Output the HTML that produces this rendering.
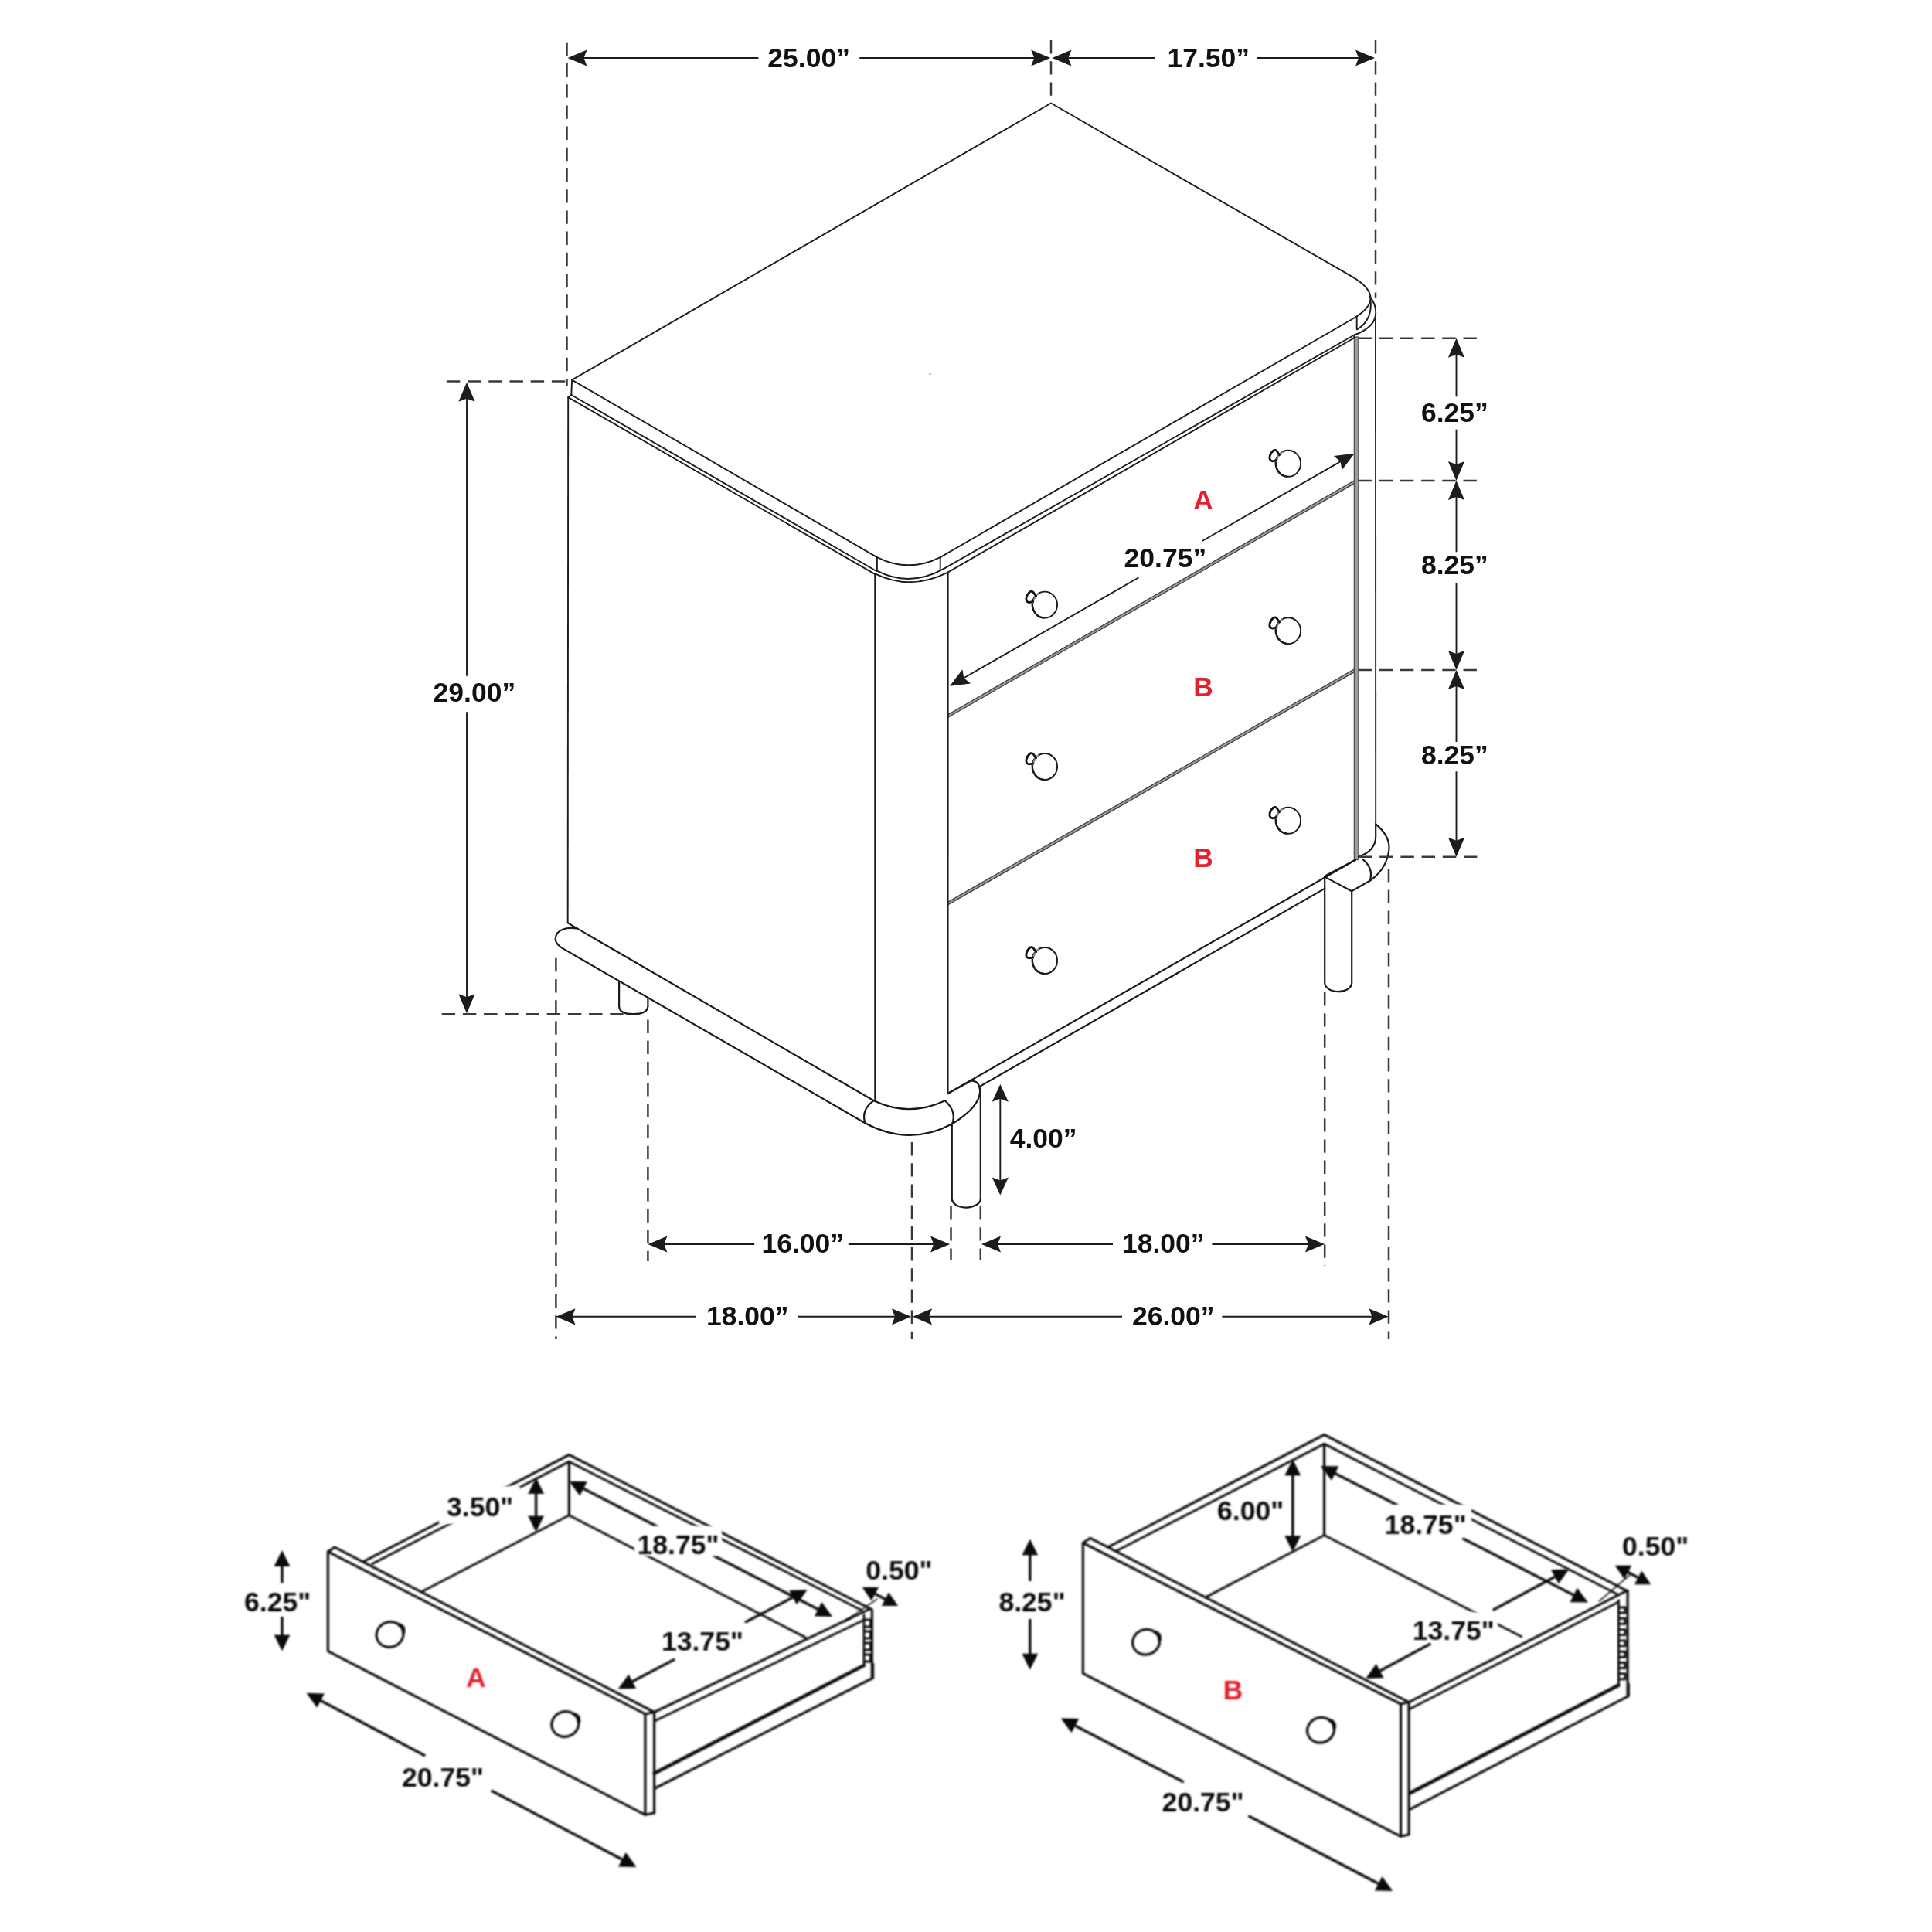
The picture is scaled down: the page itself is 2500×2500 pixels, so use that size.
<!DOCTYPE html>
<html><head><meta charset="utf-8"><title>Nightstand dimensions</title>
<style>
html,body{margin:0;padding:0;background:#fff;}
body{width:2500px;height:2500px;overflow:hidden;}
svg{display:block;}
text{font-family:"Liberation Sans",sans-serif;font-weight:bold;}
.m{fill:none;stroke:#1c1c1c;stroke-width:1.9;stroke-linecap:round;stroke-linejoin:round;}
.m2{fill:none;stroke:#1a1a1a;stroke-width:2.2;stroke-linecap:round;stroke-linejoin:round;}
.d{fill:none;stroke:#0d0d0d;stroke-width:3.2;stroke-linecap:round;stroke-linejoin:round;}
.dt{fill:none;stroke:#0d0d0d;stroke-width:2.9;stroke-linecap:round;stroke-linejoin:round;}
.dk{fill:none;stroke:#0d0d0d;stroke-width:4.6;stroke-linecap:round;stroke-linejoin:round;}
</style></head><body>
<svg width="2500" height="2500" viewBox="0 0 2500 2500">
<defs><filter id="bl" color-interpolation-filters="sRGB" x="-5%" y="-5%" width="110%" height="110%"><feGaussianBlur stdDeviation="0.8"/></filter>
<filter id="bs" color-interpolation-filters="sRGB" x="-5%" y="-5%" width="110%" height="110%"><feGaussianBlur stdDeviation="0.45"/></filter></defs>
<rect width="2500" height="2500" fill="#fff"/>

<g id="main" filter="url(#bs)">
<polygon points="1226,925.0 1753,621.5 1753,625.3 1226,928.8" fill="#9a9a9a" stroke="#3a3a3a" stroke-width="1.2"/>
<polygon points="1226,1167.5 1753,865.5 1753,869.3 1226,1171.3" fill="#9a9a9a" stroke="#3a3a3a" stroke-width="1.2"/>
<rect x="1752.3" y="436" width="5.7" height="676.5" fill="#9c9c9c" stroke="#4a4a4a" stroke-width="1.2"/>
<circle cx="1203.5" cy="484" r="1.1" fill="#555"/>
<path class="m" d="M740.1,491.6 L1360,133.5 L1749,357.6 Q1797,385.4 1751,412.2 L1216.7,721.1 Q1175.8,741.5 1134.9,721.1 Z"/>
<path class="m" d="M740.1,491.6 L739.3,511 L1132.8,738.2"/>
<path class="m" d="M739.3,511 L735.2,514.1 L1131.6,742.6"/>
<path class="m" d="M1134.9,721.1 L1134.9,738.7 M1216.7,721.1 L1216.7,736.6"/>
<path class="m" d="M1134.9,738.7 Q1176.7,760.5 1220.5,736.4"/>
<path class="m" d="M1132.4,742.4 Q1178,765 1226.5,740.6"/>
<path class="m" d="M1226.5,740.6 L1751.5,437.7 L1754,432.5"/>
<path class="m" d="M1220.5,736.4 L1754,432.5"/>
<path class="m" d="M1755.7,409.7 L1755.7,426.3"/>
<path class="m" d="M1756.3,426.3 Q1776,414 1773.6,389"/>
<path class="m" d="M1772.5,384 Q1781.5,394 1780,408 Q1778,423 1755.3,432.5"/>
<line x1="735.2" y1="514.1" x2="734.7" y2="1194.2" stroke="#1c1c1c" stroke-width="1.9" />
<line x1="1132.4" y1="742.6" x2="1132.4" y2="1424.2" stroke="#1c1c1c" stroke-width="2.3" />
<line x1="1226.5" y1="740.8" x2="1226.4" y2="1416.0" stroke="#1c1c1c" stroke-width="2.3" />
<line x1="1780.0" y1="405.6" x2="1780.2" y2="1066.3" stroke="#1c1c1c" stroke-width="1.9" />
<path class="m2" d="M734.7,1194.2 L746.7,1201.4 L1130.7,1424.2"/>
<path class="m2" d="M746.7,1201.4 Q729,1199 721.5,1207 Q713,1219 730.1,1228.4 L1119.4,1453.2"/>
<path class="m2" d="M1130.7,1424.2 Q1176.3,1446 1222.9,1424.2"/>
<path class="m2" d="M1119.4,1453.2 Q1176.3,1484 1232.2,1454.2"/>
<path class="m2" d="M1130.7,1424.2 Q1114,1436 1119.4,1453.2"/>
<path class="m2" d="M1222.9,1424.2 Q1238,1438 1232.2,1454.2"/>
<path class="m2" d="M1226.4,1415 L1257,1398.3"/>
<path class="m2" d="M1257,1398.3 Q1267.5,1399 1268.2,1411 Q1268.5,1432 1232.2,1454.2"/>
<path class="m2" d="M1268.4,1405.6 L1713.6,1150.1"/>
<path class="m2" d="M1226.4,1415 L1753.9,1112.8"/>
<path class="m2" d="M1780.2,1066.3 Q1799,1082 1797.4,1099 Q1795,1124 1772.6,1139.8 L1748.8,1153.2"/>
<path class="m2" d="M1780.2,1066.3 L1780.2,1082.8 Q1780,1101 1758,1108.7"/>
<path class="m2" d="M1763.3,1111.8 Q1778,1124 1772.6,1139.8"/>
<path class="m2" d="M1714.2,1134.6 L1749.2,1153.2"/>
<path class="m2" d="M1753.9,1112.8 L1714.6,1133.5"/>
<path class="m2" d="M1714.2,1134.6 L1714.2,1271.2 A17.5,11.4 0 0 0 1749.2,1272.3 L1749.2,1153.2"/>
<path class="m2" d="M1231.8,1455.3 L1231.8,1550.5 A18.5,11.5 0 0 0 1268.8,1551.6 L1268.8,1412"/>
<path class="m2" d="M801.1,1270.8 L801.1,1301.9 Q801.5,1312.2 819.2,1312.2 Q838,1312.2 838.4,1301.9 L838.4,1291.5"/>
<ellipse class="m" cx="1352" cy="782.6" rx="16.1" ry="17" fill="#fff"/><path d="M1350.6,799.5 A16.1,17 0 0 1 1338.8,772.8" fill="none" stroke="#1c1c1c" stroke-width="2.5" stroke-linecap="round"/><path d="M1344.5,767.0 Q1338.0,772.6 1336.4,780.6" fill="none" stroke="#8a8a8a" stroke-width="2.2"/><path d="M1340.6,771.5 L1336.9,766.1 Q1335.0,764.8 1333.2,765.5 Q1329.2,768.6 1328.1,773.2 Q1327.0,778.6 1331.5,779.6 L1336.7,778.4" fill="none" stroke="#111" stroke-width="2.8" stroke-linecap="round" stroke-linejoin="round"/>
<ellipse class="m" cx="1667" cy="599.8" rx="16.1" ry="17" fill="#fff"/><path d="M1665.6,616.7 A16.1,17 0 0 1 1653.8,590.0" fill="none" stroke="#1c1c1c" stroke-width="2.5" stroke-linecap="round"/><path d="M1659.5,584.2 Q1653.0,589.8 1651.4,597.8" fill="none" stroke="#8a8a8a" stroke-width="2.2"/><path d="M1655.6,588.7 L1651.9,583.3 Q1650.0,582.0 1648.2,582.7 Q1644.2,585.8 1643.1,590.4 Q1642.0,595.8 1646.5,596.8 L1651.7,595.6" fill="none" stroke="#111" stroke-width="2.8" stroke-linecap="round" stroke-linejoin="round"/>
<ellipse class="m" cx="1352" cy="992" rx="16.1" ry="17" fill="#fff"/><path d="M1350.6,1008.9 A16.1,17 0 0 1 1338.8,982.2" fill="none" stroke="#1c1c1c" stroke-width="2.5" stroke-linecap="round"/><path d="M1344.5,976.4 Q1338.0,982.0 1336.4,990.0" fill="none" stroke="#8a8a8a" stroke-width="2.2"/><path d="M1340.6,980.9 L1336.9,975.5 Q1335.0,974.2 1333.2,974.9 Q1329.2,978.0 1328.1,982.6 Q1327.0,988.0 1331.5,989.0 L1336.7,987.8" fill="none" stroke="#111" stroke-width="2.8" stroke-linecap="round" stroke-linejoin="round"/>
<ellipse class="m" cx="1667" cy="816.2" rx="16.1" ry="17" fill="#fff"/><path d="M1665.6,833.1 A16.1,17 0 0 1 1653.8,806.4" fill="none" stroke="#1c1c1c" stroke-width="2.5" stroke-linecap="round"/><path d="M1659.5,800.6 Q1653.0,806.2 1651.4,814.2" fill="none" stroke="#8a8a8a" stroke-width="2.2"/><path d="M1655.6,805.1 L1651.9,799.7 Q1650.0,798.4 1648.2,799.1 Q1644.2,802.2 1643.1,806.8 Q1642.0,812.2 1646.5,813.2 L1651.7,812.0" fill="none" stroke="#111" stroke-width="2.8" stroke-linecap="round" stroke-linejoin="round"/>
<ellipse class="m" cx="1352" cy="1243" rx="16.1" ry="17" fill="#fff"/><path d="M1350.6,1259.9 A16.1,17 0 0 1 1338.8,1233.2" fill="none" stroke="#1c1c1c" stroke-width="2.5" stroke-linecap="round"/><path d="M1344.5,1227.4 Q1338.0,1233.0 1336.4,1241.0" fill="none" stroke="#8a8a8a" stroke-width="2.2"/><path d="M1340.6,1231.9 L1336.9,1226.5 Q1335.0,1225.2 1333.2,1225.9 Q1329.2,1229.0 1328.1,1233.6 Q1327.0,1239.0 1331.5,1240.0 L1336.7,1238.8" fill="none" stroke="#111" stroke-width="2.8" stroke-linecap="round" stroke-linejoin="round"/>
<ellipse class="m" cx="1667" cy="1061.8" rx="16.1" ry="17" fill="#fff"/><path d="M1665.6,1078.7 A16.1,17 0 0 1 1653.8,1052.0" fill="none" stroke="#1c1c1c" stroke-width="2.5" stroke-linecap="round"/><path d="M1659.5,1046.2 Q1653.0,1051.8 1651.4,1059.8" fill="none" stroke="#8a8a8a" stroke-width="2.2"/><path d="M1655.6,1050.7 L1651.9,1045.3 Q1650.0,1044.0 1648.2,1044.7 Q1644.2,1047.8 1643.1,1052.4 Q1642.0,1057.8 1646.5,1058.8 L1651.7,1057.6" fill="none" stroke="#111" stroke-width="2.8" stroke-linecap="round" stroke-linejoin="round"/>
</g>
<g id="dash" filter="url(#bs)">
<line x1="733.5" y1="54.8" x2="733.5" y2="500.0" stroke="#3a3a3a" stroke-width="2.5" stroke-dasharray="17.4 9.8"/>
<line x1="1360.0" y1="52.0" x2="1360.0" y2="124.0" stroke="#3a3a3a" stroke-width="2.5" stroke-dasharray="17.4 9.8"/>
<line x1="1780.0" y1="52.0" x2="1780.0" y2="385.6" stroke="#3a3a3a" stroke-width="2.5" stroke-dasharray="17.4 9.8"/>
<line x1="577.9" y1="493.5" x2="733.6" y2="493.5" stroke="#3a3a3a" stroke-width="2.5" stroke-dasharray="17.4 9.8"/>
<line x1="571.7" y1="1312.2" x2="807.8" y2="1312.2" stroke="#3a3a3a" stroke-width="2.5" stroke-dasharray="17.4 9.8"/>
<line x1="1757.5" y1="437.7" x2="1912.6" y2="437.7" stroke="#3a3a3a" stroke-width="2.5" stroke-dasharray="17.4 9.8"/>
<line x1="1757.5" y1="622.0" x2="1912.6" y2="622.0" stroke="#3a3a3a" stroke-width="2.5" stroke-dasharray="17.4 9.8"/>
<line x1="1757.5" y1="867.0" x2="1912.6" y2="867.0" stroke="#3a3a3a" stroke-width="2.5" stroke-dasharray="17.4 9.8"/>
<line x1="1758.0" y1="1108.7" x2="1912.6" y2="1108.7" stroke="#3a3a3a" stroke-width="2.5" stroke-dasharray="17.4 9.8"/>
<line x1="719.4" y1="1239.8" x2="719.4" y2="1733.0" stroke="#3a3a3a" stroke-width="2.5" stroke-dasharray="17.4 9.8"/>
<line x1="838.4" y1="1319.5" x2="838.4" y2="1632.0" stroke="#3a3a3a" stroke-width="2.5" stroke-dasharray="17.4 9.8"/>
<line x1="1180.0" y1="1478.0" x2="1180.0" y2="1733.0" stroke="#3a3a3a" stroke-width="2.5" stroke-dasharray="17.4 9.8"/>
<line x1="1230.5" y1="1561.0" x2="1230.5" y2="1631.0" stroke="#3a3a3a" stroke-width="2.5" stroke-dasharray="17.4 9.8"/>
<line x1="1268.8" y1="1561.0" x2="1268.8" y2="1631.0" stroke="#3a3a3a" stroke-width="2.5" stroke-dasharray="17.4 9.8"/>
<line x1="1714.2" y1="1284.0" x2="1714.2" y2="1638.0" stroke="#3a3a3a" stroke-width="2.5" stroke-dasharray="17.4 9.8"/>
<line x1="1797.0" y1="1124.2" x2="1797.0" y2="1733.0" stroke="#3a3a3a" stroke-width="2.5" stroke-dasharray="17.4 9.8"/>
</g>
<g id="arr" filter="url(#bs)">
<line x1="749.5" y1="75.0" x2="981.4" y2="75.0" stroke="#1c1c1c" stroke-width="1.9" /><line x1="1112.3" y1="75.0" x2="1344.2" y2="75.0" stroke="#1c1c1c" stroke-width="1.9" /><polygon points="734.5,75.0 759.5,64.4 755.5,75.0 759.5,85.6" fill="#1c1c1c"/><polygon points="1359.2,75.0 1334.2,85.6 1338.2,75.0 1334.2,64.4" fill="#1c1c1c"/>
<line x1="1376.4" y1="75.0" x2="1494.4" y2="75.0" stroke="#1c1c1c" stroke-width="1.9" /><line x1="1626.9" y1="75.0" x2="1764.0" y2="75.0" stroke="#1c1c1c" stroke-width="1.9" /><polygon points="1361.4,75.0 1386.4,64.4 1382.4,75.0 1386.4,85.6" fill="#1c1c1c"/><polygon points="1779.0,75.0 1754.0,85.6 1758.0,75.0 1754.0,64.4" fill="#1c1c1c"/>
<line x1="604.0" y1="509.7" x2="604.0" y2="874.7" stroke="#1c1c1c" stroke-width="1.9" /><line x1="604.0" y1="921.3" x2="604.0" y2="1296.2" stroke="#1c1c1c" stroke-width="1.9" /><polygon points="604.0,494.7 614.6,519.7 604.0,515.7 593.4,519.7" fill="#1c1c1c"/><polygon points="604.0,1311.2 593.4,1286.2 604.0,1290.2 614.6,1286.2" fill="#1c1c1c"/>
<line x1="1884.5" y1="452.7" x2="1884.5" y2="513.3" stroke="#1c1c1c" stroke-width="1.9" /><line x1="1884.5" y1="555.7" x2="1884.5" y2="607.0" stroke="#1c1c1c" stroke-width="1.9" /><polygon points="1884.5,437.7 1895.1,462.7 1884.5,458.7 1873.9,462.7" fill="#1c1c1c"/><polygon points="1884.5,622.0 1873.9,597.0 1884.5,601.0 1895.1,597.0" fill="#1c1c1c"/>
<line x1="1884.5" y1="637.0" x2="1884.5" y2="714.3" stroke="#1c1c1c" stroke-width="1.9" /><line x1="1884.5" y1="754.7" x2="1884.5" y2="852.0" stroke="#1c1c1c" stroke-width="1.9" /><polygon points="1884.5,622.0 1895.1,647.0 1884.5,643.0 1873.9,647.0" fill="#1c1c1c"/><polygon points="1884.5,867.0 1873.9,842.0 1884.5,846.0 1895.1,842.0" fill="#1c1c1c"/>
<line x1="1884.5" y1="882.0" x2="1884.5" y2="960.0" stroke="#1c1c1c" stroke-width="1.9" /><line x1="1884.5" y1="998.3" x2="1884.5" y2="1093.7" stroke="#1c1c1c" stroke-width="1.9" /><polygon points="1884.5,867.0 1895.1,892.0 1884.5,888.0 1873.9,892.0" fill="#1c1c1c"/><polygon points="1884.5,1108.7 1873.9,1083.7 1884.5,1087.7 1895.1,1083.7" fill="#1c1c1c"/>
<line x1="1294.3" y1="1415.0" x2="1294.3" y2="1535.0" stroke="#1c1c1c" stroke-width="1.9" /><polygon points="1294.3,1402.9 1304.9,1425.7 1294.3,1421.7 1283.7,1425.7" fill="#1c1c1c"/><polygon points="1294.3,1546.4 1283.7,1523.6 1294.3,1527.6 1304.9,1523.6" fill="#1c1c1c"/>
<line x1="853.4" y1="1610.0" x2="976.2" y2="1610.0" stroke="#1c1c1c" stroke-width="1.9" /><line x1="1097.8" y1="1610.0" x2="1214.1" y2="1610.0" stroke="#1c1c1c" stroke-width="1.9" /><polygon points="838.4,1610.0 863.4,1599.4 859.4,1610.0 863.4,1620.6" fill="#1c1c1c"/><polygon points="1229.1,1610.0 1204.1,1620.6 1208.1,1610.0 1204.1,1599.4" fill="#1c1c1c"/>
<line x1="1285.0" y1="1610.0" x2="1440.0" y2="1610.0" stroke="#1c1c1c" stroke-width="1.9" /><line x1="1568.4" y1="1610.0" x2="1699.0" y2="1610.0" stroke="#1c1c1c" stroke-width="1.9" /><polygon points="1270.0,1610.0 1295.0,1599.4 1291.0,1610.0 1295.0,1620.6" fill="#1c1c1c"/><polygon points="1714.0,1610.0 1689.0,1620.6 1693.0,1610.0 1689.0,1599.4" fill="#1c1c1c"/>
<line x1="734.5" y1="1703.8" x2="901.0" y2="1703.8" stroke="#1c1c1c" stroke-width="1.9" /><line x1="1033.0" y1="1703.8" x2="1164.0" y2="1703.8" stroke="#1c1c1c" stroke-width="1.9" /><polygon points="719.5,1703.8 744.5,1693.2 740.5,1703.8 744.5,1714.4" fill="#1c1c1c"/><polygon points="1179.0,1703.8 1154.0,1714.4 1158.0,1703.8 1154.0,1693.2" fill="#1c1c1c"/>
<line x1="1196.0" y1="1703.8" x2="1452.0" y2="1703.8" stroke="#1c1c1c" stroke-width="1.9" /><line x1="1581.4" y1="1703.8" x2="1781.5" y2="1703.8" stroke="#1c1c1c" stroke-width="1.9" /><polygon points="1181.0,1703.8 1206.0,1693.2 1202.0,1703.8 1206.0,1714.4" fill="#1c1c1c"/><polygon points="1796.5,1703.8 1771.5,1714.4 1775.5,1703.8 1771.5,1693.2" fill="#1c1c1c"/>
<line x1="1242.0" y1="880.3" x2="1473.5" y2="747.3" stroke="#1c1c1c" stroke-width="1.9" /><line x1="1555.3" y1="700.2" x2="1740.0" y2="594.1" stroke="#1c1c1c" stroke-width="1.9" />
<polygon points="1229.0,887.8 1245.4,866.2 1247.2,877.3 1256.0,884.5" fill="#1c1c1c"/><polygon points="1752.8,586.7 1736.4,608.3 1734.6,597.2 1725.8,590.0" fill="#1c1c1c"/>
</g>
<g id="txt" filter="url(#bs)">
<text x="993.3" y="86.7" font-size="35.5" fill="#111" text-anchor="start" >25.00”</text>
<text x="1510.5" y="86.7" font-size="35.5" fill="#111" text-anchor="start" >17.50”</text>
<text x="560.6" y="908.1" font-size="35.5" fill="#111" text-anchor="start" >29.00”</text>
<text x="1839.0" y="546.1" font-size="35.5" fill="#111" text-anchor="start" >6.25”</text>
<text x="1839.0" y="743.0" font-size="35.5" fill="#111" text-anchor="start" >8.25”</text>
<text x="1839.0" y="989.3" font-size="35.5" fill="#111" text-anchor="start" >8.25”</text>
<text x="1306.7" y="1485.0" font-size="35.5" fill="#111" text-anchor="start" >4.00”</text>
<text x="985.5" y="1620.7" font-size="35.5" fill="#111" text-anchor="start" >16.00”</text>
<text x="1452.0" y="1620.7" font-size="35.5" fill="#111" text-anchor="start" >18.00”</text>
<text x="914.0" y="1714.9" font-size="35.5" fill="#111" text-anchor="start" >18.00”</text>
<text x="1465.0" y="1714.9" font-size="35.5" fill="#111" text-anchor="start" >26.00”</text>
<text x="1454.6" y="733.7" font-size="35.5" fill="#111" text-anchor="start" >20.75”</text>
<text x="1557.0" y="659.0" font-size="35.3" fill="#e3202b" text-anchor="middle" >A</text>
<text x="1557.0" y="900.6" font-size="35.3" fill="#e3202b" text-anchor="middle" >B</text>
<text x="1557.0" y="1122.0" font-size="35.3" fill="#e3202b" text-anchor="middle" >B</text>
</g><g id="drawerA" filter="url(#bl)">
<path class="d" d="M471.4,2020.2 L736.4,1882.5 L1126.1,2081.6"/>
<path class="dt" d="M481.8,2023.6 L736.4,1891.4 L1114.5,2083.5"/>
<path class="d" d="M736.4,1891.4 L736.4,1960.8"/>
<path class="dt" d="M547,2059 L736.4,1960.8 L1042.3,2118.9"/>
<path class="d" d="M846.6,2215.5 L1126.1,2081.6"/>
<path class="dt" d="M846.6,2227.2 L1116.8,2096.8"/>
<path class="d" d="M1128.4,2082.8 L1128.4,2171.3"/>
<path class="dt" d="M1118,2089.8 L1118,2153"/>
<path class="dt" d="M1118,2096 h8.5 v9 h-8.5 M1118,2111 h8.5 v9 h-8.5 M1118,2126 h8.5 v9 h-8.5 M1118,2141 h8.5 v9 h-8.5"/>
<path class="dk" d="M846.6,2294.7 L1118,2155"/>
<path class="d" d="M846.6,2314.5 L1129.6,2171.3 L1129.6,2153"/>
<path class="d" d="M424.4,2007.8 L834.9,2217.9 L834.9,2348.3 L424.4,2136.7 Z" fill="#fff"/>
<path class="d" d="M424.4,2007.8 L433.1,2002.2 L846.6,2215.5 L846.6,2346 L834.9,2348.3"/>
<path class="dt" d="M834.9,2217.9 L846.6,2215.5"/>
<ellipse class="d" cx="504.6" cy="2115" rx="17.6" ry="16.2" transform="rotate(-20 504.6 2115)"/><path d="M516.6,2102.5 q6.5,2 5.5,9.5" fill="none" stroke="#0a0a0a" stroke-width="4.6" stroke-linecap="round"/>
<ellipse class="d" cx="731.3" cy="2231" rx="17.6" ry="16.2" transform="rotate(-20 731.3 2231)"/><path d="M743.3,2218.5 q6.5,2 5.5,9.5" fill="none" stroke="#0a0a0a" stroke-width="4.6" stroke-linecap="round"/>
</g>
<g id="drawerAdims" filter="url(#bl)">
<line x1="1093.5" y1="2097.9" x2="1135.4" y2="2068.8" stroke="#0a0a0a" stroke-width="1.6"/>
<line x1="693.6" y1="1930.0" x2="693.6" y2="1964.5" stroke="#0a0a0a" stroke-width="3.4"/><polygon points="693.6,1912.0 704.0,1933.0 693.6,1933.0 683.2,1933.0" fill="#0a0a0a"/><polygon points="693.6,1982.5 683.2,1961.5 693.6,1961.5 704.0,1961.5" fill="#0a0a0a"/>
<line x1="752.4" y1="1924.9" x2="852.3" y2="1976.3" stroke="#0a0a0a" stroke-width="3.4"/><line x1="922.1" y1="2012.2" x2="1061.2" y2="2083.8" stroke="#0a0a0a" stroke-width="3.4"/><polygon points="736.4,1916.7 759.8,1917.1 755.1,1926.3 750.3,1935.6" fill="#0a0a0a"/><polygon points="1077.2,2092.0 1053.8,2091.6 1058.5,2082.4 1063.3,2073.1" fill="#0a0a0a"/>
<line x1="815.6" y1="2177.2" x2="873.2" y2="2147.1" stroke="#0a0a0a" stroke-width="3.4"/><line x1="963.8" y1="2099.6" x2="1028.7" y2="2065.6" stroke="#0a0a0a" stroke-width="3.4"/><polygon points="799.7,2185.6 813.5,2166.6 818.3,2175.8 823.1,2185.1" fill="#0a0a0a"/><polygon points="1044.6,2057.2 1030.8,2076.2 1026.0,2067.0 1021.2,2057.7" fill="#0a0a0a"/>
<line x1="1129.8" y1="2061.1" x2="1148.0" y2="2070.7" stroke="#0a0a0a" stroke-width="3.4"/><polygon points="1115.6,2053.7 1137.1,2053.7 1132.4,2062.5 1127.8,2071.4" fill="#0a0a0a"/><polygon points="1162.2,2078.1 1140.7,2078.1 1145.4,2069.3 1150.0,2060.4" fill="#0a0a0a"/>
<line x1="365.0" y1="2022.0" x2="365.0" y2="2048.4" stroke="#0a0a0a" stroke-width="3.4"/><polygon points="365.0,2006.0 375.4,2027.0 365.0,2027.0 354.6,2027.0" fill="#0a0a0a"/>
<line x1="365.0" y1="2092.0" x2="365.0" y2="2120.0" stroke="#0a0a0a" stroke-width="3.4"/><polygon points="365.0,2136.4 354.6,2115.4 365.0,2115.4 375.4,2115.4" fill="#0a0a0a"/>
<line x1="412.4" y1="2199.2" x2="550.2" y2="2271.9" stroke="#0a0a0a" stroke-width="3.4"/><line x1="635.6" y1="2316.9" x2="807.6" y2="2407.6" stroke="#0a0a0a" stroke-width="3.4"/><polygon points="396.5,2190.8 419.9,2191.4 415.1,2200.6 410.2,2209.8" fill="#0a0a0a"/><polygon points="823.5,2416.0 800.1,2415.4 804.9,2406.2 809.8,2397.0" fill="#0a0a0a"/>
<rect x="568.0" y="1923.0" width="105.0" height="49.0" fill="#fff"/>
<rect x="821.0" y="1974.5" width="113.0" height="39.0" fill="#fff"/>
<rect x="851.0" y="2100.0" width="115.0" height="40.0" fill="#fff"/>
<text x="578.0" y="1961.8" font-size="35.6" fill="#0a0a0a" text-anchor="start" >3.50"</text>
<text x="824.5" y="2010.6" font-size="35.6" fill="#0a0a0a" text-anchor="start" >18.75"</text>
<text x="1120.3" y="2044.3" font-size="35.6" fill="#0a0a0a" text-anchor="start" >0.50"</text>
<text x="855.9" y="2136.4" font-size="35.6" fill="#0a0a0a" text-anchor="start" >13.75"</text>
<text x="316.0" y="2084.7" font-size="35.6" fill="#0a0a0a" text-anchor="start" >6.25"</text>
<text x="520.0" y="2312.4" font-size="35.6" fill="#0a0a0a" text-anchor="start" >20.75"</text>
<text x="616.0" y="2183.3" font-size="35.3" fill="#e3202b" text-anchor="middle" >A</text>
</g>
<g id="drawerB" filter="url(#bl)">
<path class="d" d="M1434,2001.9 L1713.6,1856.5 L2105,2058.3"/>
<path class="dt" d="M1444.5,2007 L1713.6,1868.4 L2092,2062.5"/>
<path class="d" d="M1713.6,1868.4 L1713.6,1986"/>
<path class="dt" d="M1561,2066.4 L1713.6,1986.5 L1968.7,2117.7"/>
<path class="d" d="M1823.1,2202.7 L2105,2058.3"/>
<path class="dt" d="M1823,2212 L2093.3,2073.5"/>
<path class="d" d="M2106.1,2058.3 L2106.1,2194.6"/>
<path class="dt" d="M2094.5,2071 L2094.5,2179.4"/>
<path class="dt" d="M2094.5,2080.0 h8.5 v7 h-8.5 M2094.5,2094.3 h8.5 v7 h-8.5 M2094.5,2108.6 h8.5 v7 h-8.5 M2094.5,2122.9 h8.5 v7 h-8.5 M2094.5,2137.2 h8.5 v7 h-8.5 M2094.5,2151.5 h8.5 v7 h-8.5 M2094.5,2165.8 h8.5 v7 h-8.5"/>
<path class="dk" d="M1824.3,2320.4 L2094.5,2180.6"/>
<path class="d" d="M1824.3,2341.3 L2107.3,2194.6 L2107.3,2179"/>
<path class="d" d="M1401.4,1996.5 L1812.6,2205 L1812.6,2376.3 L1401.4,2165.4 Z" fill="#fff"/>
<path class="d" d="M1401.4,1996.5 L1410.8,1990.3 L1823.1,2202.7 L1823.1,2374 L1812.6,2376.3"/>
<path class="dt" d="M1812.6,2205 L1823.1,2202.7"/>
<ellipse class="d" cx="1483" cy="2124.7" rx="17.6" ry="16.2" transform="rotate(-20 1483 2124.7)"/><path d="M1495.0,2112.2 q6.5,2 5.5,9.5" fill="none" stroke="#0a0a0a" stroke-width="4.6" stroke-linecap="round"/>
<ellipse class="d" cx="1709" cy="2238.8" rx="17.6" ry="16.2" transform="rotate(-20 1709 2238.8)"/><path d="M1721.0,2226.3 q6.5,2 5.5,9.5" fill="none" stroke="#0a0a0a" stroke-width="4.6" stroke-linecap="round"/>
</g>
<g id="drawerBdims" filter="url(#bl)">
<line x1="2068.8" y1="2072.3" x2="2109.6" y2="2037.4" stroke="#0a0a0a" stroke-width="1.6"/>
<line x1="1672.8" y1="1906.2" x2="1672.8" y2="1990.2" stroke="#0a0a0a" stroke-width="3.4"/><polygon points="1672.8,1888.2 1683.2,1909.2 1672.8,1909.2 1662.4,1909.2" fill="#0a0a0a"/><polygon points="1672.8,2008.2 1662.4,1987.2 1672.8,1987.2 1683.2,1987.2" fill="#0a0a0a"/>
<line x1="1725.0" y1="1905.2" x2="1809.3" y2="1948.2" stroke="#0a0a0a" stroke-width="3.4"/><line x1="1892.3" y1="1990.5" x2="2038.9" y2="2065.3" stroke="#0a0a0a" stroke-width="3.4"/><polygon points="1709.0,1897.0 1732.4,1897.3 1727.7,1906.5 1723.0,1915.8" fill="#0a0a0a"/><polygon points="2054.9,2073.5 2031.5,2073.2 2036.2,2064.0 2040.9,2054.7" fill="#0a0a0a"/>
<line x1="1783.1" y1="2163.5" x2="1851.4" y2="2126.7" stroke="#0a0a0a" stroke-width="3.4"/><line x1="1931.7" y1="2083.5" x2="2014.5" y2="2038.9" stroke="#0a0a0a" stroke-width="3.4"/><polygon points="1767.2,2172.0 1780.8,2152.9 1785.7,2162.1 1790.6,2171.2" fill="#0a0a0a"/><polygon points="2030.4,2030.4 2016.8,2049.5 2011.9,2040.3 2007.0,2031.2" fill="#0a0a0a"/>
<line x1="2104.0" y1="2033.1" x2="2122.2" y2="2042.8" stroke="#0a0a0a" stroke-width="3.4"/><polygon points="2089.8,2025.7 2111.3,2025.7 2106.6,2034.5 2102.0,2043.4" fill="#0a0a0a"/><polygon points="2136.4,2050.2 2114.9,2050.2 2119.6,2041.4 2124.2,2032.5" fill="#0a0a0a"/>
<line x1="1332.8" y1="2008.0" x2="1332.8" y2="2045.9" stroke="#0a0a0a" stroke-width="3.4"/><polygon points="1332.8,1991.5 1343.2,2012.5 1332.8,2012.5 1322.4,2012.5" fill="#0a0a0a"/>
<line x1="1332.8" y1="2095.0" x2="1332.8" y2="2145.0" stroke="#0a0a0a" stroke-width="3.4"/><polygon points="1332.8,2160.8 1322.4,2139.8 1332.8,2139.8 1343.2,2139.8" fill="#0a0a0a"/>
<line x1="1388.7" y1="2231.7" x2="1531.7" y2="2306.1" stroke="#0a0a0a" stroke-width="3.4"/><line x1="1615.4" y1="2349.7" x2="1786.3" y2="2438.7" stroke="#0a0a0a" stroke-width="3.4"/><polygon points="1372.7,2223.4 1396.1,2223.9 1391.3,2233.1 1386.5,2242.3" fill="#0a0a0a"/><polygon points="1802.3,2447.0 1778.9,2446.5 1783.7,2437.3 1788.5,2428.1" fill="#0a0a0a"/>
<rect x="1787.0" y="1947.0" width="117.0" height="43.0" fill="#fff"/>
<rect x="1823.0" y="2086.0" width="115.0" height="40.0" fill="#fff"/>
<text x="1575.0" y="1967.2" font-size="35.6" fill="#0a0a0a" text-anchor="start" >6.00"</text>
<text x="1791.6" y="1985.0" font-size="35.6" fill="#0a0a0a" text-anchor="start" >18.75"</text>
<text x="2099.0" y="2012.9" font-size="35.6" fill="#0a0a0a" text-anchor="start" >0.50"</text>
<text x="1827.8" y="2122.4" font-size="35.6" fill="#0a0a0a" text-anchor="start" >13.75"</text>
<text x="1292.4" y="2084.7" font-size="35.6" fill="#0a0a0a" text-anchor="start" >8.25"</text>
<text x="1503.6" y="2343.5" font-size="35.6" fill="#0a0a0a" text-anchor="start" >20.75"</text>
<text x="1595.5" y="2199.2" font-size="35.3" fill="#e3202b" text-anchor="middle" >B</text>
</g>
</svg></body></html>
